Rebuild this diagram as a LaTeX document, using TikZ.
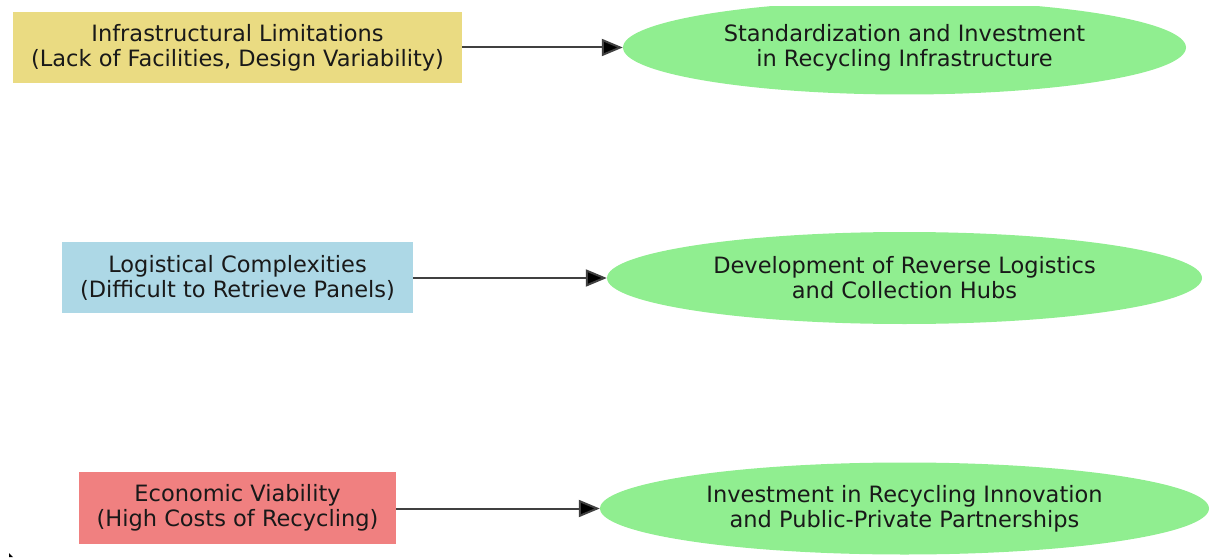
\documentclass[tikz,border=0pt]{standalone}
\usepackage{fontspec}
\setmainfont{DejaVu Sans}
\usetikzlibrary{shapes.geometric,arrows.meta}
\definecolor{cgold}{HTML}{EADB82}
\definecolor{cblue}{HTML}{ADD8E6}
\definecolor{ccoral}{HTML}{F08080}
\definecolor{cgreen}{HTML}{90EE90}
\tikzset{
  txt/.style={font=\fontsize{22.5}{25}\selectfont, align=center, text=black!90},
  probbox/.style={txt, draw=none, inner sep=0pt},
  solnode/.style={txt, ellipse, fill=cgreen, draw=none, inner sep=0pt},
  conn/.style={draw=black!75, line width=2pt, -{Triangle[length=21pt,width=17pt,fill=black]}}
}
\begin{document}
\begin{tikzpicture}[x=1pt,y=-1pt]
\useasboundingbox (0,0) rectangle (1210,559);
\begin{scope}
\clip (0,7) rectangle (1210,559);
% problem boxes
\fill[cgold] (13,12) rectangle (462,83);
\node[probbox] (p1) at (237.5,47.5) {Infrastructural Limitations\\(Lack of Facilities, Design Variability)};
\coordinate (p1e) at (462,47.5);
\fill[cblue] (62,242) rectangle (413,313);
\node[probbox] (p2) at (237.5,277.5) {Logistical Complexities\\(Difficult to Retrieve Panels)};
\coordinate (p2e) at (413,278);
\fill[ccoral] (79,472) rectangle (396,544);
\node[probbox] (p3) at (237.5,508) {Economic Viability\\(High Costs of Recycling)};
\coordinate (p3e) at (396,508.5);
% solution ellipses
\node[solnode, minimum width=563pt, minimum height=94pt] (s1) at (904.5,47.5) {Standardization and Investment\\in Recycling Infrastructure};
\node[solnode, minimum width=595pt, minimum height=92pt] (s2) at (904.5,278) {Development of Reverse Logistics\\and Collection Hubs};
\node[solnode, minimum width=609pt, minimum height=92pt] (s3) at (904.5,508.5) {Investment in Recycling Innovation\\and Public-Private Partnerships};
% connectors
\draw[conn] (p1e) -- (s1.west);
\draw[conn] (p2e) -- (s2.west);
\draw[conn] (p3e) -- (s3.west);
% small stray mark
\fill[black] (9,553) -- (13,557) -- (9,557) -- cycle;
\end{scope}
\end{tikzpicture}
\end{document}
